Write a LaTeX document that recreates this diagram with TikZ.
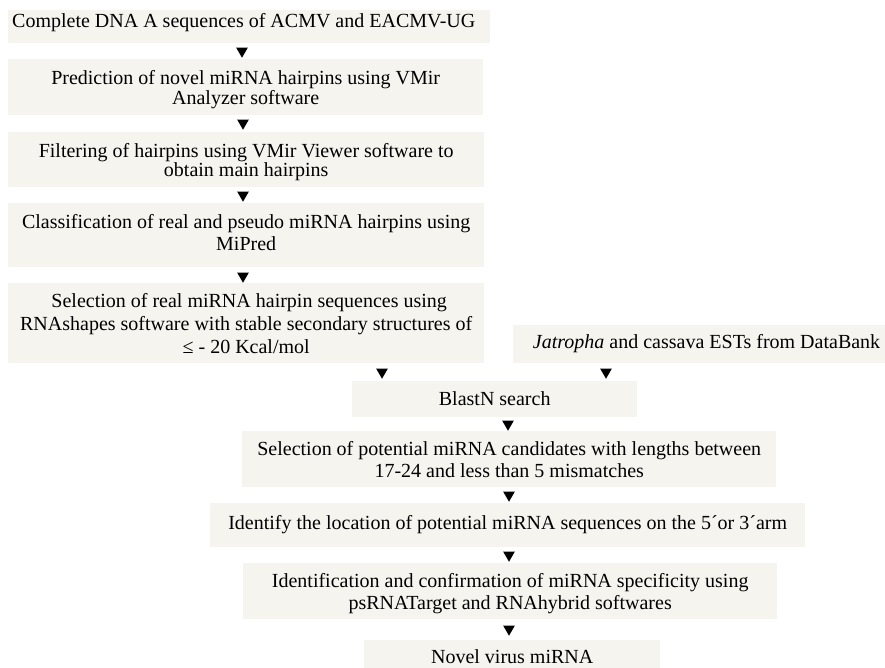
\documentclass[tikz,border=0pt]{standalone}
\usepackage{fontspec}
\setmainfont{Liberation Serif}
\usetikzlibrary{shapes.geometric}
\definecolor{boxfill}{RGB}{246,244,239}
% width, height, top gap, baselineskip, content
\newcommand\bxt[5]{\parbox[c][#2pt][t]{#1pt}{\fontsize{20}{#4}\selectfont\centering\vspace*{#3pt}\rule{0pt}{16pt}#5}}
\begin{document}
\begin{tikzpicture}[x=1pt,y=-1pt,
  box/.style={fill=boxfill, inner sep=0pt, anchor=north west},
  tri/.style={regular polygon, regular polygon sides=3, shape border rotate=180,
    fill=black, inner sep=0pt, minimum size=13.5pt}]
\useasboundingbox (0,0) rectangle (885,668);
\fill[white] (0,0) rectangle (885,668);

\node[box] (b1) at (8,10) {\parbox[c][33pt][t]{482pt}{\fontsize{20}{23}\selectfont\vspace*{1pt}\hspace*{4pt}\rule{0pt}{16pt}Complete DNA A sequences of ACMV and EACMV-UG}};
\node[box] (b2) at (8,59) {\bxt{475}{56}{9}{20}{Prediction of novel miRNA hairpins using VMir\\Analyzer software}};
\node[box] (b3) at (8,132) {\bxt{476}{55}{9}{19.5}{Filtering of hairpins using VMir Viewer software to\\obtain main hairpins}};
\node[box] (b4) at (8,203) {\bxt{476}{64}{9}{22}{Classification of real and pseudo miRNA hairpins using\\MiPred}};
\node[box] (b5) at (8,283) {\bxt{476}{80}{8}{23}{\hspace*{6pt}Selection of real miRNA hairpin sequences using\\RNAshapes software with stable secondary structures of\\≤ - 20 Kcal/mol}};
\node[box] (r) at (513,325) {\parbox[c][38pt][t]{372pt}{\fontsize{20}{23}\selectfont\raggedleft\vspace*{7pt}\rule{0pt}{16pt}\textit{Jatropha} and cassava ESTs from DataBank\hspace*{5pt}}};
\node[box] (bl) at (352,381) {\bxt{285}{36}{8}{23}{BlastN search}};
\node[box] (sel) at (242,431) {\bxt{534}{56}{8}{22}{Selection of potential miRNA candidates with lengths between\\17-24 and less than 5 mismatches}};
\node[box] (loc) at (210,503) {\bxt{595}{44}{10}{23}{Identify the location of potential miRNA sequences on the 5´or 3´arm}};
\node[box] (idf) at (243,563) {\bxt{534}{56}{8}{22}{Identification and confirmation of miRNA specificity using\\psRNATarget and RNAhybrid softwares}};
\node[box] (nov) at (364,640) {\bxt{296}{28}{7}{23}{Novel virus miRNA}};

\node[tri] (a1) at (242,51) {};
\node[tri] (a2) at (243,123) {};
\node[tri] (a3) at (243,195) {};
\node[tri] (a4) at (243,276) {};
\node[tri] (a5) at (382,372) {};
\node[tri] (a6) at (606,372) {};
\node[tri] (a7) at (508,424) {};
\node[tri] (a8) at (509,495) {};
\node[tri] (a9) at (509,555) {};
\node[tri] (a10) at (509,629) {};
\end{tikzpicture}
\end{document}
